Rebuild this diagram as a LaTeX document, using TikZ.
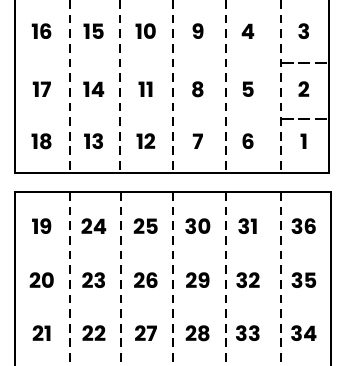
\documentclass[tikz,border=0pt]{standalone}
\usepackage{fontspec}
\setmainfont{Poppins}
\usepackage{tikz}
\usetikzlibrary{positioning}

\begin{document}
\begin{tikzpicture}[
    x=0.3mm, y=-0.3mm,
    every node/.style={inner sep=0pt},
    frame/.style  ={line width=1.5pt, draw=black, line cap=round},
    fold/.style   ={line width=1.3pt, draw=black,
                    dash pattern=on 7.5pt off 5pt},
    flap/.style   ={line width=1.3pt, draw=black,
                    dash pattern=on 10pt off 4pt},
    num/.style    ={font=\fontsize{18}{20}\selectfont\bfseries,
                    text height=0.7em, text depth=0pt},
  ]

  \useasboundingbox (0,0) rectangle (336,366);

  %% --- common geometry --------------------------------------------------
  \def\xl{15}     % left edge
  \def\xr{329}    % right edge

  %% =====================================================================
  %% Upper sheet
  %% =====================================================================
  \begin{scope}
    % outline (top edge runs off the page)
    \draw[frame] (\xl,0) -- (\xl,173) -- (\xr,173) -- (\xr,0);
    % fold lines
    \draw[fold] (70,0) -- (70,173);
    \draw[fold] (120,0) -- (120,173);
    \draw[fold] (173,0) -- (173,173);
    \draw[fold] (226,0) -- (226,173);
    \draw[fold] (281,0) -- (281,173);
    % short cuts in the last column
    \draw[flap] (282,63) -- (\xr,63);
    \draw[flap] (282,119) -- (\xr,119);
    % page numbers
    \foreach \n/\x in {16/42,15/94,10/146,9/198,4/248,3/304}
      \node[num] (n\n) at (\x,35) {\n};
    \foreach \n/\x in {17/42,14/94,11/146,8/198,5/248,2/304}
      \node[num] (n\n) at (\x,93) {\n};
    \foreach \n/\x in {18/42,13/94,12/146,7/198,6/248,1/304}
      \node[num] (n\n) at (\x,145) {\n};
  \end{scope}

  %% =====================================================================
  %% Lower sheet
  %% =====================================================================
  \begin{scope}
    \draw[frame] (\xl,366) -- (\xl,192) -- (331,192) -- (331,366);
    \draw[fold] (70,192) -- (70,366);
    \draw[fold] (121,192) -- (121,366);
    \draw[fold] (173,192) -- (173,366);
    \draw[fold] (226,192) -- (226,366);
    \draw[fold] (281,192) -- (281,366);
    \foreach \n/\x in {19/42,24/94,25/146,30/198,31/248,36/304}
      \node[num] (n\n) at (\x,230) {\n};
    \foreach \n/\x in {20/42,23/94,26/146,29/198,32/248,35/304}
      \node[num] (n\n) at (\x,284) {\n};
    \foreach \n/\x in {21/42,22/94,27/146,28/198,33/248,34/304}
      \node[num] (n\n) at (\x,337) {\n};
  \end{scope}

\end{tikzpicture}
\end{document}
